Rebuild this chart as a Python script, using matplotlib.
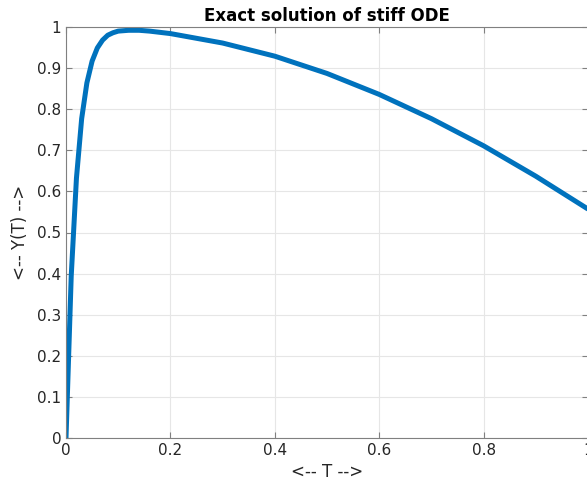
import numpy as np
import matplotlib
matplotlib.use("Agg")
import matplotlib.pyplot as plt

# values
t = [0.0, 0.01, 0.02, 0.03, 0.04, 0.05, 0.06, 0.07, 0.08, 0.09, 0.10,
     0.12, 0.14, 0.16, 0.2, 0.3, 0.4, 0.5, 0.6, 0.7, 0.8, 0.9, 1.0]
y = [0.0, 0.394, 0.632, 0.777, 0.864, 0.917, 0.949, 0.968, 0.980, 0.986, 0.990,
     0.992, 0.992, 0.990, 0.984, 0.961, 0.929, 0.887, 0.836, 0.777, 0.711, 0.637, 0.557]

xticks = [0, 0.2, 0.4, 0.6, 0.8, 1]
xticklabels = ["0", "0.2", "0.4", "0.6", "0.8", "1"]
yticks = [0, 0.1, 0.2, 0.3, 0.4, 0.5, 0.6, 0.7, 0.8, 0.9, 1]
yticklabels = ["0", "0.1", "0.2", "0.3", "0.4", "0.5", "0.6", "0.7", "0.8", "0.9", "1"]

txt = "#262626"
plt.rcParams["font.family"] = "DejaVu Sans"

fig = plt.figure(figsize=(5.87, 4.83), dpi=100)
ax = fig.add_axes([66 / 587, 45 / 483, 522 / 587, 411 / 483])

ax.plot(t, y, color="#0072BD", linewidth=3.6, solid_capstyle="butt")

ax.set_xlim(0, 1)
ax.set_ylim(0, 1)
ax.set_xticks(xticks)
ax.set_xticklabels(xticklabels)
ax.set_yticks(yticks)
ax.set_yticklabels(yticklabels)
ax.grid(True, color="#e6e6e6", linewidth=0.8)
ax.set_axisbelow(True)
ax.tick_params(direction="in", length=4, colors="#808080", labelcolor=txt,
               labelsize=11, top=True, right=True)
for s in ax.spines.values():
    s.set_color("#808080")
    s.set_linewidth(0.8)

ax.set_title("Exact solution of stiff ODE", fontsize=12, fontweight="bold", color="black", pad=4)
ax.set_xlabel("<-- T -->", fontsize=12, color=txt, labelpad=4)
ax.set_ylabel("<-- Y(T) -->", fontsize=12, color=txt, labelpad=6)

fig.savefig("out.png", dpi=100)
